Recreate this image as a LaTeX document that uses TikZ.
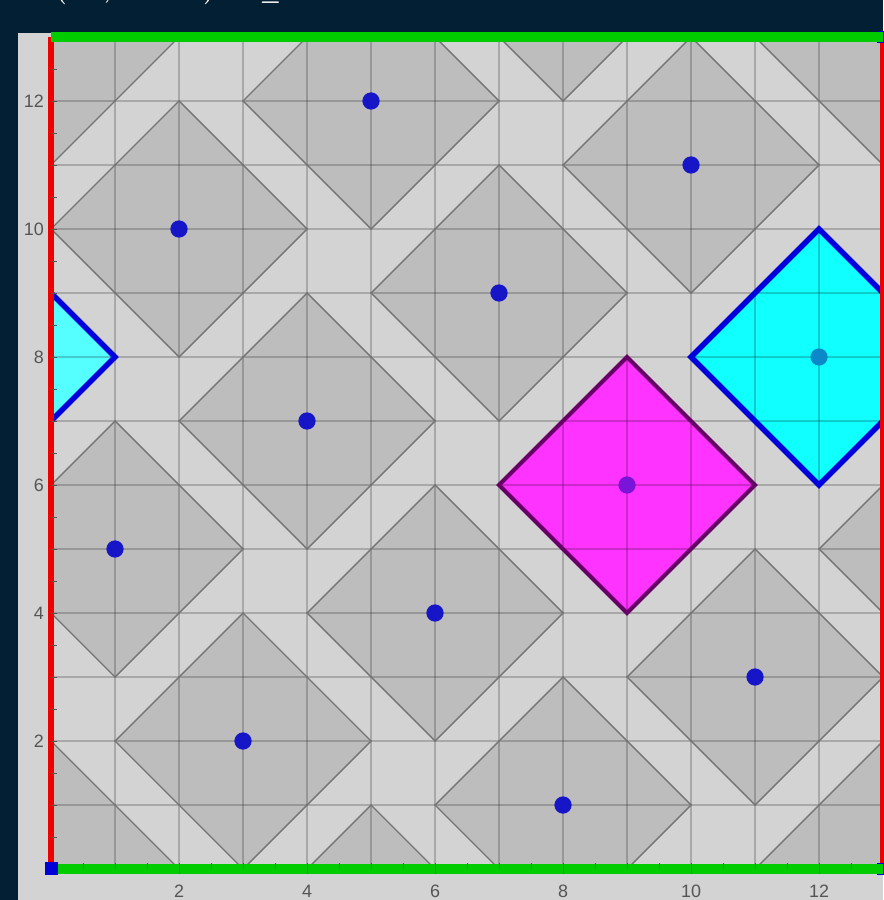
\documentclass[tikz,border=0pt]{standalone}
\usepackage{fontspec}
\setsansfont{Liberation Sans}
\definecolor{bgdark}{HTML}{021F33}
\definecolor{panel}{HTML}{D3D3D3}
\definecolor{tilefill}{HTML}{BDBDBD}
\definecolor{tileline}{HTML}{747474}
\definecolor{dotblue}{HTML}{1616C8}
\definecolor{cyanfill}{HTML}{10FFFF}
\definecolor{cyanlight}{HTML}{55FFFF}
\definecolor{cyanline}{HTML}{0000DC}
\definecolor{cyandot}{HTML}{0A88C8}
\definecolor{magfill}{HTML}{FF33FF}
\definecolor{magline}{HTML}{660066}
\definecolor{magdot}{HTML}{7A14D8}
\definecolor{redline}{HTML}{EE0000}
\definecolor{greenline}{HTML}{00CC00}
\definecolor{labelgray}{HTML}{555555}
\newcommand{\dia}[2]{({#1-2},{#2}) -- ({#1},{#2+2}) -- ({#1+2},{#2}) -- ({#1},{#2-2}) -- cycle}
\tikzset{
  tilebody/.style={fill=tilefill},
  tileedge/.style={draw=tileline, line width=1.4bp, line join=miter},
  gridlines/.style={draw=black, draw opacity=0.2, line width=1.6bp},
  centerdot/.style={fill=dotblue},
  ticklabel/.style={text=labelgray, font=\sffamily\fontsize{18}{18}\selectfont, inner sep=0pt},
  tickmark/.style={draw=labelgray, line width=0.9bp},
}
\begin{document}
\begin{tikzpicture}[x=64bp,y=64bp]
\fill[bgdark] (-0.797,-0.484) rectangle (13,13.578);
\useasboundingbox (-0.797,-0.484) rectangle (13,13.578);
\fill[panel] (-0.516,-0.484) rectangle (13,13.06);
% title (cut off at top)
\node[anchor=base west, inner sep=0pt, text=white, font=\fontsize{70}{70}\selectfont\boldmath] (title) at (-0.219,13.6)
  {$L(\hspace{20bp}x,\hspace{75bp}c)\hspace{37bp}\leq\hspace{80bp}5$};
\begin{scope}
\clip (0,0) rectangle (13,13);
% tile fills
\foreach \cx/\cy in {0/0,8/1,3/2,11/3,6/4,1/5,9/6,4/7,12/8,7/9,2/10,10/11,5/12}{
  \foreach \dx in {-13,0,13}{
    \foreach \dy in {-13,0,13}{
      \fill[tilebody] \dia{\cx+\dx}{\cy+\dy};
    }}}
% highlighted tiles
\fill[cyanfill] \dia{12}{8};
\fill[cyanlight] \dia{-1}{8};
\fill[magfill] \dia{9}{6};
% grid
\foreach \g in {1,...,12}{
  \draw[gridlines] (\g,0) -- (\g,13);
  \draw[gridlines] (0,\g) -- (13,\g);
}
% tile outlines
\foreach \cx/\cy in {0/0,8/1,3/2,11/3,6/4,1/5,9/6,4/7,12/8,7/9,2/10,10/11,5/12}{
  \foreach \dx in {-13,0,13}{
    \foreach \dy in {-13,0,13}{
      \draw[tileedge] \dia{\cx+\dx}{\cy+\dy};
    }}}
\draw[draw=cyanline, line width=5.5bp, line join=miter] \dia{12}{8};
\draw[draw=cyanline, line width=5.5bp, line join=miter] \dia{-1}{8};
\draw[draw=magline, line width=4bp, line join=miter] \dia{9}{6};
% centre dots
\foreach \cx/\cy in {8/1,3/2,11/3,6/4,1/5,4/7,7/9,2/10,10/11,5/12}{
  \fill[centerdot] (\cx,\cy) circle (0.135);
}
\fill[cyandot] (12,8) circle (0.135);
\fill[magdot] (9,6) circle (0.135);
\end{scope}
% axis line
\draw[tickmark] (0,0) -- (13,0);
% boundary lines
\draw[redline, line width=6bp] (0,0) -- (0,13);
\draw[redline, line width=6bp] (13,0) -- (13,13);
\fill[blue!85!black] (12.9,12.9) rectangle (13.1,13.1);
\fill[blue!85!black] (12.9,-0.1) rectangle (13.1,0.1);
\draw[greenline, line width=10bp] (0,0) -- (13,0);
\draw[greenline, line width=10bp] (0,13) -- (13,13);
\fill[blue!85!black] (-0.09,-0.09) rectangle (0.11,0.11);
% ticks
\foreach \t in {1,...,25}{
  \draw[tickmark] ({\t/2},0) -- ({\t/2},0.1);
  \draw[tickmark] (0,{\t/2}) -- (0.1,{\t/2});
}
\foreach \t in {2,4,...,12}{
  \draw[tickmark] (\t,0) -- (\t,-0.07);
  \node[ticklabel, anchor=north] (xl\t) at (\t,-0.25) {\t};
  \node[ticklabel, anchor=east] (yl\t) at (-0.11,\t) {\t};
}
\end{tikzpicture}
\end{document}
